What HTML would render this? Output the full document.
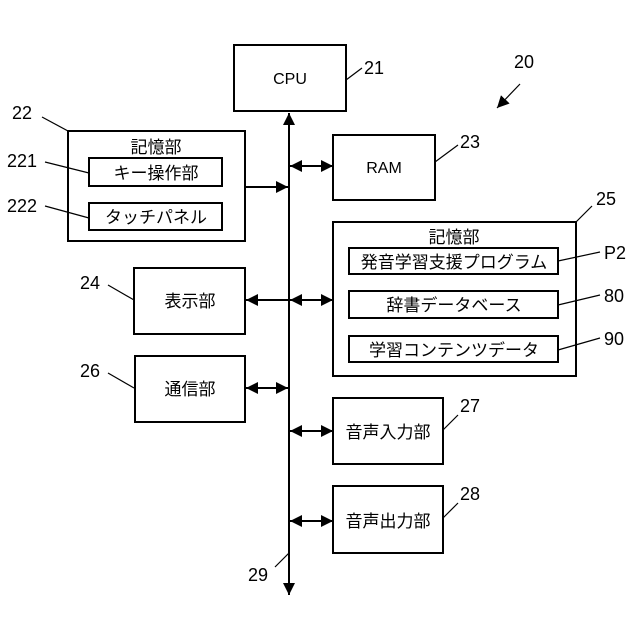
<!DOCTYPE html>
<html><head><meta charset="utf-8"><style>
html,body{margin:0;padding:0;background:#fff;}
svg{display:block;}
text{font-family:"Liberation Sans","Noto Sans CJK JP",sans-serif;fill:#000;}
</style></head><body>
<svg width="640" height="640" viewBox="0 0 640 640" xmlns="http://www.w3.org/2000/svg">
<defs>
<marker id="a" viewBox="0 0 10 10" refX="10" refY="5" markerWidth="12" markerHeight="12" markerUnits="userSpaceOnUse" orient="auto-start-reverse"><path d="M0,0 L10,5 L0,10 z" fill="#000"/></marker>
</defs>
<g fill="none" stroke="#000" stroke-width="2">
<rect x="234" y="45" width="112" height="66"/>
<rect x="68" y="131" width="177" height="110"/>
<rect x="89" y="158" width="133" height="28"/>
<rect x="89" y="203" width="133" height="27"/>
<rect x="333" y="135" width="102" height="65"/>
<rect x="333" y="222" width="243" height="154"/>
<rect x="349" y="248" width="209" height="26"/>
<rect x="349" y="291" width="209" height="27"/>
<rect x="349" y="336" width="209" height="26"/>
<rect x="134" y="268" width="111" height="66"/>
<rect x="135" y="356" width="110" height="66"/>
<rect x="333" y="398" width="110" height="66"/>
<rect x="333" y="486" width="110" height="67"/>
</g>
<g stroke="#000" stroke-width="2" fill="none">
<line x1="289" y1="113" x2="289" y2="595" marker-start="url(#a)" marker-end="url(#a)"/>
<line x1="245" y1="187" x2="288" y2="187" marker-end="url(#a)"/>
<line x1="290" y1="166" x2="333" y2="166" marker-start="url(#a)" marker-end="url(#a)"/>
<line x1="290" y1="300" x2="333" y2="300" marker-start="url(#a)" marker-end="url(#a)"/>
<line x1="288" y1="300" x2="246" y2="300" marker-end="url(#a)"/>
<line x1="246" y1="388" x2="288" y2="388" marker-start="url(#a)" marker-end="url(#a)"/>
<line x1="290" y1="431" x2="333" y2="431" marker-start="url(#a)" marker-end="url(#a)"/>
<line x1="290" y1="521" x2="333" y2="521" marker-start="url(#a)" marker-end="url(#a)"/>
</g>
<g stroke="#000" stroke-width="1.2" fill="none">
<line x1="346" y1="80" x2="362" y2="68"/>
<line x1="42" y1="117" x2="68" y2="131"/>
<line x1="45" y1="162" x2="89" y2="173"/>
<line x1="45" y1="206" x2="89" y2="218"/>
<line x1="435" y1="162" x2="458" y2="145"/>
<line x1="576" y1="222" x2="592" y2="206"/>
<line x1="558" y1="261" x2="600" y2="252"/>
<line x1="558" y1="305" x2="600" y2="295"/>
<line x1="558" y1="350" x2="600" y2="338"/>
<line x1="108" y1="285" x2="134" y2="300"/>
<line x1="108" y1="373" x2="134" y2="388"/>
<line x1="443" y1="430" x2="458" y2="415"/>
<line x1="443" y1="518" x2="458" y2="503"/>
<line x1="275" y1="567" x2="289" y2="553"/>
<line x1="520" y1="84" x2="497" y2="108" marker-end="url(#a)"/>
</g>
<g font-size="17" text-anchor="middle">
<text x="290" y="84" font-size="16">CPU</text>
<text x="384" y="173" font-size="16">RAM</text>
<text x="156" y="153">記憶部</text>
<text x="156" y="179">キー操作部</text>
<text x="156" y="223">タッチパネル</text>
<text x="454" y="243">記憶部</text>
<text x="454" y="268">発音学習支援プログラム</text>
<text x="454" y="311">辞書データベース</text>
<text x="454" y="356">学習コンテンツデータ</text>
<text x="190" y="307">表示部</text>
<text x="190" y="395">通信部</text>
<text x="388" y="438">音声入力部</text>
<text x="388" y="527">音声出力部</text>
</g>
<g font-size="18">
<text x="364" y="74">21</text>
<text x="514" y="68">20</text>
<text x="12" y="119">22</text>
<text x="7" y="167">221</text>
<text x="7" y="212">222</text>
<text x="460" y="148">23</text>
<text x="596" y="205">25</text>
<text x="604" y="259">P2</text>
<text x="604" y="302">80</text>
<text x="604" y="345">90</text>
<text x="80" y="289">24</text>
<text x="80" y="377">26</text>
<text x="460" y="412">27</text>
<text x="460" y="500">28</text>
<text x="248" y="581">29</text>
</g>
</svg>
</body></html>
